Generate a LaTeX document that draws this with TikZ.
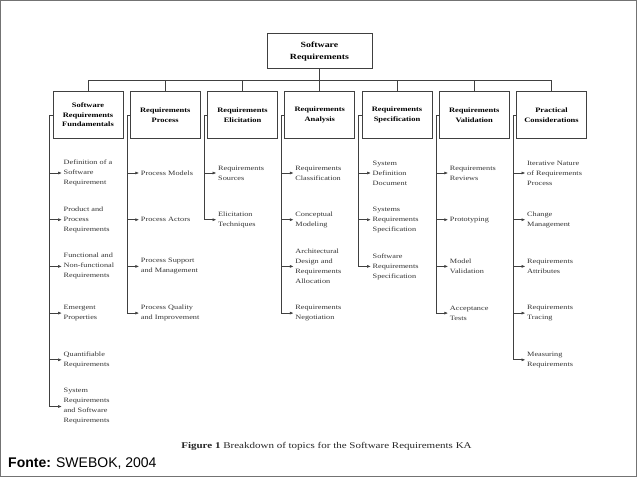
\documentclass[tikz,border=0pt]{standalone}
\usepackage{fontspec}
\setmainfont[FakeStretch=1.25]{Liberation Serif}
\newfontfamily\fontefont{Liberation Sans}
\usetikzlibrary{arrows.meta}

\tikzset{
  topbox/.style={draw=black!75, line width=0.8pt, minimum width=105pt, minimum height=35pt,
    align=center, font={\fontsize{7.9}{12}\selectfont\bfseries}},
  areabox/.style={draw=black!75, line width=0.8pt, minimum width=70pt, minimum height=46.6pt,
    align=center, font={\fontsize{6.75}{9.5}\selectfont\bfseries}},
  item/.style={anchor=west, align=left, inner sep=1.5pt, text=black!80,
    font={\fontsize{6.6}{10}\selectfont}},
  tree/.style={draw=black!75, line width=0.7pt},
  leaf/.style={tree, -{Latex[length=4pt,width=3pt]}}
}

\begin{document}
\begin{tikzpicture}[x=1pt,y=-1pt]
\useasboundingbox (0,0) rectangle (638,479);
\draw[black!55, line width=1pt] (0.5,0.5) rectangle (636.5,476.5);

\node[topbox] (sr) at (319.5,51.2) {Software\\Requirements};

\node[areabox] (fund) at (88,115) {Software\\Requirements\\Fundamentals};
\node[areabox] (proc) at (165.25,115) {Requirements\\Process};
\node[areabox] (elic) at (242.5,115) {Requirements\\Elicitation};
\node[areabox] (anal) at (319.75,115) {Requirements\\Analysis};
\node[areabox] (spec) at (397,115) {Requirements\\Specification};
\node[areabox] (vali) at (474.25,115) {Requirements\\Validation};
\node[areabox] (prac) at (551.5,115) {Practical\\Considerations};

% bus from the top box to the seven areas
\coordinate (bus) at (319.5,80.3);
\draw[tree] (sr.south) -- (bus);
\draw[tree] (bus) -| (fund.north);
\draw[tree] (bus) -| (proc.north);
\draw[tree] (bus) -| (elic.north);
\draw[tree] (bus) -| (anal.north);
\draw[tree] (bus) -| (spec.north);
\draw[tree] (bus) -| (vali.north);
\draw[tree] (bus) -| (prac.north);

% Software Requirements Fundamentals
\node[item] (fund1) at (62,173) {Definition of a\\Software\\Requirement};
\node[item] (fund2) at (62,219.7) {Product and\\Process\\Requirements};
\node[item] (fund3) at (62,266.4) {Functional and\\Non-functional\\Requirements};
\node[item] (fund4) at (62,313.1) {Emergent\\Properties};
\node[item] (fund5) at (62,359.8) {Quantifiable\\Requirements};
\node[item] (fund6) at (62,406.5) {System\\Requirements\\and Software\\Requirements};

% Requirements Process
\node[item] (proc1) at (139.25,173) {Process Models};
\node[item] (proc2) at (139.25,219.7) {Process Actors};
\node[item] (proc3) at (139.25,266.4) {Process Support\\and Management};
\node[item] (proc4) at (139.25,313.1) {Process Quality\\and Improvement};

% Requirements Elicitation
\node[item] (elic1) at (216.5,173) {Requirements\\Sources};
\node[item] (elic2) at (216.5,219.7) {Elicitation\\Techniques};

% Requirements Analysis
\node[item] (anal1) at (293.75,173) {Requirements\\Classification};
\node[item] (anal2) at (293.75,219.7) {Conceptual\\Modeling};
\node[item] (anal3) at (293.75,266.4) {Architectural\\Design and\\Requirements\\Allocation};
\node[item] (anal4) at (293.75,313.1) {Requirements\\Negotiation};

% Requirements Specification
\node[item] (spec1) at (371,173) {System\\Definition\\Document};
\node[item] (spec2) at (371,219.7) {Systems\\Requirements\\Specification};
\node[item] (spec3) at (371,266.4) {Software\\Requirements\\Specification};

% Requirements Validation
\node[item] (vali1) at (448.25,173) {Requirements\\Reviews};
\node[item] (vali2) at (448.25,219.7) {Prototyping};
\node[item] (vali3) at (448.25,266.4) {Model\\Validation};
\node[item] (vali4) at (448.25,313.1) {Acceptance\\Tests};

% Practical Considerations
\node[item] (prac1) at (525.5,173) {Iterative Nature\\of Requirements\\Process};
\node[item] (prac2) at (525.5,219.7) {Change\\Management};
\node[item] (prac3) at (525.5,266.4) {Requirements\\Attributes};
\node[item] (prac4) at (525.5,313.1) {Requirements\\Tracing};
\node[item] (prac5) at (525.5,359.8) {Measuring\\Requirements};

% spines with arrows to the topics
\draw[leaf] (fund.west) -- ++(-3,0) |- (fund1.west);
\draw[leaf] (fund.west) -- ++(-3,0) |- (fund2.west);
\draw[leaf] (fund.west) -- ++(-3,0) |- (fund3.west);
\draw[leaf] (fund.west) -- ++(-3,0) |- (fund4.west);
\draw[leaf] (fund.west) -- ++(-3,0) |- (fund5.west);
\draw[leaf] (fund.west) -- ++(-3,0) |- (fund6.west);

\draw[leaf] (proc.west) -- ++(-3,0) |- (proc1.west);
\draw[leaf] (proc.west) -- ++(-3,0) |- (proc2.west);
\draw[leaf] (proc.west) -- ++(-3,0) |- (proc3.west);
\draw[leaf] (proc.west) -- ++(-3,0) |- (proc4.west);

\draw[leaf] (elic.west) -- ++(-3,0) |- (elic1.west);
\draw[leaf] (elic.west) -- ++(-3,0) |- (elic2.west);

\draw[leaf] (anal.west) -- ++(-3,0) |- (anal1.west);
\draw[leaf] (anal.west) -- ++(-3,0) |- (anal2.west);
\draw[leaf] (anal.west) -- ++(-3,0) |- (anal3.west);
\draw[leaf] (anal.west) -- ++(-3,0) |- (anal4.west);

\draw[leaf] (spec.west) -- ++(-3,0) |- (spec1.west);
\draw[leaf] (spec.west) -- ++(-3,0) |- (spec2.west);
\draw[leaf] (spec.west) -- ++(-3,0) |- (spec3.west);

\draw[leaf] (vali.west) -- ++(-3,0) |- (vali1.west);
\draw[leaf] (vali.west) -- ++(-3,0) |- (vali2.west);
\draw[leaf] (vali.west) -- ++(-3,0) |- (vali3.west);
\draw[leaf] (vali.west) -- ++(-3,0) |- (vali4.west);

\draw[leaf] (prac.west) -- ++(-3,0) |- (prac1.west);
\draw[leaf] (prac.west) -- ++(-3,0) |- (prac2.west);
\draw[leaf] (prac.west) -- ++(-3,0) |- (prac3.west);
\draw[leaf] (prac.west) -- ++(-3,0) |- (prac4.west);
\draw[leaf] (prac.west) -- ++(-3,0) |- (prac5.west);

\node[font={\fontsize{8.8}{11}\selectfont}, text=black!85] (caption) at (326.5,446)
  {\textbf{Figure 1} Breakdown of topics for the Software Requirements KA};
\node[anchor=west, inner sep=0pt, font={\fontefont\fontsize{14}{16}\selectfont}] (fonte) at (8,464)
  {\textbf{Fonte:} SWEBOK, 2004};
\end{tikzpicture}
\end{document}
